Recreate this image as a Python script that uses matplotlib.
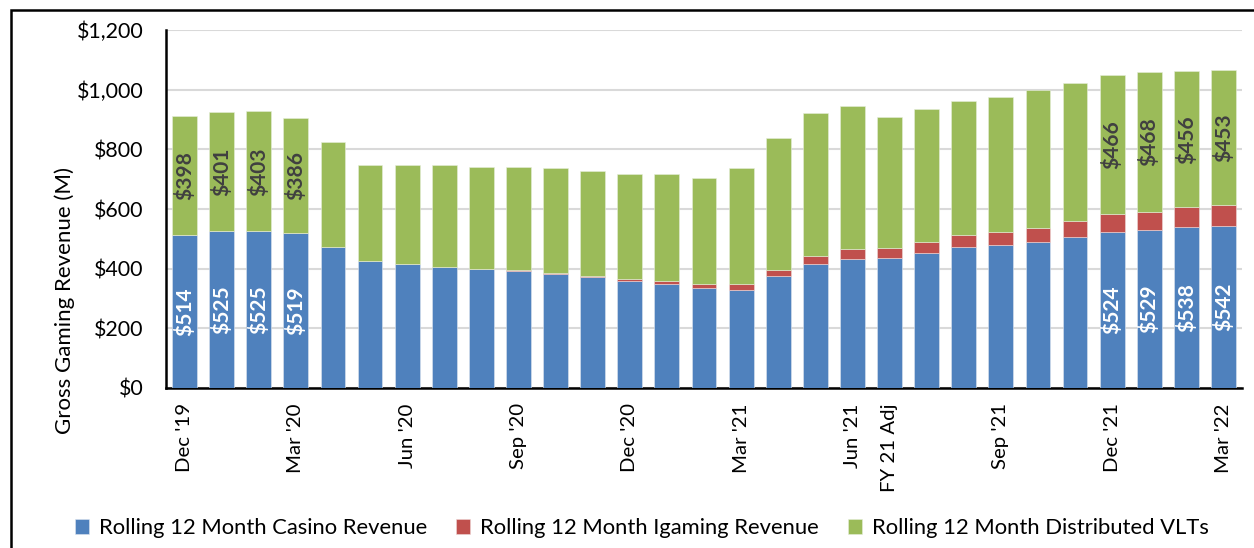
import numpy as np
import matplotlib
matplotlib.use("Agg")
import matplotlib.pyplot as plt
from matplotlib.patches import Rectangle

plt.rcParams['font.family'] = ['Lato', 'DejaVu Sans']

months = ["Dec '19", "", "", "Mar '20", "", "", "Jun '20", "", "", "Sep '20", "", "",
          "Dec '20", "", "", "Mar '21", "", "", "Jun '21", "FY 21 Adj", "", "",
          "Sep '21", "", "", "Dec '21", "", "", "Mar '22"]

casino = [514, 525, 525, 519, 471, 426, 416, 407, 400, 391, 381, 371, 357, 347, 334,
          330, 374, 416, 434, 435, 452, 471, 478, 489, 506, 524, 529, 538, 542]
igaming = [0, 0, 0, 0, 0, 0, 0, 0, 0, 3, 4, 6, 8, 10, 13,
           18, 22, 25, 31, 33, 38, 41, 46, 48, 53, 58, 62, 68, 71]
vlts = [398, 401, 403, 386, 353, 322, 331, 339, 340, 346, 351, 350, 353, 360, 358,
        390, 441, 480, 480, 442, 445, 450, 451, 462, 465, 466, 468, 456, 453]

# bars that carry value labels
labelled = [0, 1, 2, 3, 25, 26, 27, 28]

c_blue = '#4F81BD'
c_red = '#C0504D'
c_green = '#9BBB59'

fig = plt.figure(figsize=(12.54, 5.48), dpi=100)
ax = fig.add_axes([166 / 1254, 1 - 388 / 548, (1242 - 166) / 1254, (388 - 30) / 548])

x = np.arange(len(casino))
casino = np.array(casino)
igaming = np.array(igaming)
vlts = np.array(vlts)

w = 0.67
ax.bar(x, casino, w, color=c_blue, edgecolor='#dfe6f0', linewidth=0.4,
       label='Rolling 12 Month Casino Revenue', zorder=3)
ax.bar(x, igaming, w, bottom=casino, color=c_red, edgecolor='#eed8d8', linewidth=0.4,
       label='Rolling 12 Month Igaming Revenue', zorder=3)
ax.bar(x, vlts, w, bottom=casino + igaming, color=c_green, edgecolor='#e6eedb', linewidth=0.4,
       label='Rolling 12 Month Distributed VLTs', zorder=3)

for i in labelled:
    ax.text(x[i], casino[i] / 2, '$%d' % casino[i], rotation=90, ha='center', va='center',
            color='white', fontsize=15, fontweight='bold', zorder=4)
    ax.text(x[i], casino[i] + igaming[i] + vlts[i] / 2, '$%d' % vlts[i], rotation=90,
            ha='center', va='center', color='#404040', fontsize=15, fontweight='bold', zorder=4)

ax.set_xlim(-0.5, len(x) - 0.5)
ax.set_ylim(0, 1200)
ax.set_yticks(np.arange(0, 1201, 200))
ax.set_yticklabels(['$' + format(v, ',') for v in range(0, 1201, 200)], fontsize=15.4)
ax.set_xticks(x)
ax.set_xticklabels(months, rotation=90, fontsize=14.7)
ax.tick_params(axis='y', length=0, pad=16)
ax.tick_params(axis='x', length=0, pad=11)
ax.grid(axis='y', color='#d9d9d9', linewidth=1.5, zorder=0)
for s in ['top', 'right']:
    ax.spines[s].set_visible(False)
for s in ['left', 'bottom']:
    ax.spines[s].set_linewidth(1.8)
    ax.spines[s].set_color('black')
ax.set_ylabel('Gross Gaming Revenue (M)', fontsize=16)
ax.yaxis.set_label_coords((75 - 166) / 1076, (388 - 300) / 358)

leg = fig.legend(loc='center', bbox_to_anchor=(642 / 1254, 1 - 528 / 548), ncol=3, frameon=False,
                 fontsize=15.8, handlelength=0.64, handleheight=0.64, columnspacing=1.3,
                 handletextpad=0.46)

fig.patches.append(Rectangle((11 / 1254, -0.05), 1.2, 1 - 10 / 548 + 0.05, transform=fig.transFigure,
                             fill=False, edgecolor='black', linewidth=1.8))

fig.savefig('out.png', dpi=100)
